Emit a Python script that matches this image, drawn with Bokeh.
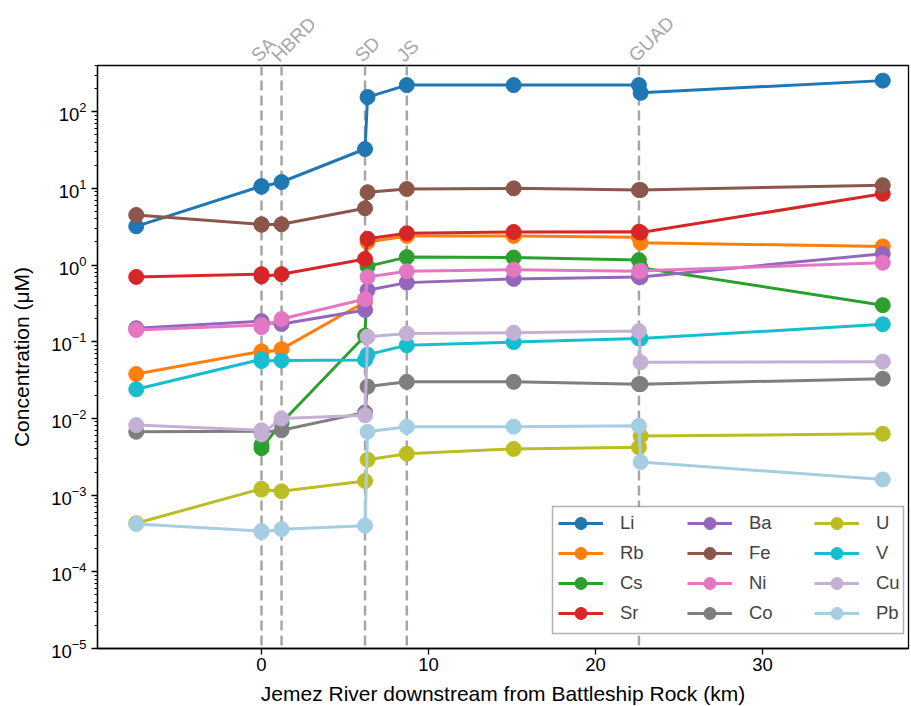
import math
from bokeh.plotting import figure
from bokeh.models import (Legend, LegendItem, Span, FixedTicker, Range1d,
                          LogTickFormatter, LinearAxis, BoxAnnotation)
from bokeh.embed import file_html
from bokeh.resources import INLINE

nan = float("nan")

# distance downstream from Battleship Rock (km)
distance_km = [-7.5, 0.0, 0.0, 1.2, 6.2, 6.35, 8.7, 15.1, 22.6, 22.7, 37.2]

Li = [3.2, 10.7, 10.5, 12.1, 32.6, 155, 222, 222, 222, 176, 254]
Rb = [0.038, 0.075, 0.072, 0.080, 0.33, 2.0, 2.4, 2.4, 2.3, 1.95, 1.75]
Cs = [nan, 0.0045, 0.0041, 0.0088, 0.12, 0.96, 1.27, 1.25, 1.16, 0.92, 0.30]
Sr = [0.70, 0.76, 0.71, 0.76, 1.2, 2.2, 2.6, 2.7, 2.72, 2.65, 8.5]
Ba = [0.15, 0.186, 0.18, 0.17, 0.26, 0.47, 0.59, 0.66, 0.70, 0.70, 1.40]
Fe = [4.5, 3.4, 3.35, 3.4, 5.5, 8.9, 9.8, 10.0, 9.5, 9.5, 11.0]
Ni = [0.142, 0.165, 0.155, 0.198, 0.36, 0.70, 0.83, 0.87, 0.83, 0.84, 1.07]
Co = [0.0067, 0.0068, 0.0066, 0.0070, 0.012, 0.026, 0.030, 0.030, 0.028, 0.028, 0.033]
U = [0.00043, 0.00121, 0.00118, 0.00112, 0.00153, 0.0029, 0.00347, 0.0040, 0.0042, 0.0059, 0.0063]
V = [0.024, 0.059, 0.056, 0.057, 0.058, 0.068, 0.090, 0.099, 0.11, 0.11, 0.169]
Cu = [0.0082, 0.0070, 0.0062, 0.0100, 0.011, 0.116, 0.128, 0.131, 0.138, 0.054, 0.055]
Pb = [0.00042, 0.00034, 0.00033, 0.00036, 0.00040, 0.0067, 0.0078, 0.0078, 0.0080, 0.0027, 0.0016]

elements = ["Li", "Rb", "Cs", "Sr", "Ba", "Fe", "Ni", "Co", "U", "V", "Cu", "Pb"]
series = [Li, Rb, Cs, Sr, Ba, Fe, Ni, Co, U, V, Cu, Pb]
colors = ["#1f77b4", "#ff7f0e", "#2ca02c", "#d62728", "#9467bd", "#8c564b",
          "#e377c2", "#7f7f7f", "#bcbd22", "#17becf", "#c5b0d5", "#a6cee3"]

site_names = ["SA", "HBRD", "SD", "JS", "GUAD"]
site_km = [0.0, 1.2, 6.2, 8.7, 22.6]

x_ticks = [0, 10, 20, 30]
y_major = [1e-5, 1e-4, 1e-3, 1e-2, 1e-1, 1e0, 1e1, 1e2]

FONT = "Liberation Sans"
FW, FH = 811, 583
X0, X1 = -9.82, 38.74
PX_PER_KM = FW / (X1 - X0)

p = figure(frame_width=FW, frame_height=FH,
           x_range=Range1d(X0, X1), y_range=Range1d(1e-5, 400),
           y_axis_type="log", output_backend="svg", toolbar_location=None,
           min_border_left=97, min_border_top=65, min_border_right=3,
           min_border_bottom=58)

p.grid.visible = False
p.outline_line_color = "black"
p.outline_line_width = 1.3
p.background_fill_color = "white"
p.border_fill_color = "white"

p.xaxis.ticker = FixedTicker(ticks=x_ticks)
minor = [m * d for d in y_major[:-1] for m in range(2, 10)] + [m * 1e2 for m in range(2, 5)]
p.yaxis.ticker = FixedTicker(ticks=y_major, minor_ticks=minor)
p.yaxis.formatter = LogTickFormatter()

for ax in (p.xaxis[0], p.yaxis[0]):
    ax.axis_line_color = "black"
    ax.axis_line_width = 1.3
    ax.major_tick_line_color = "black"
    ax.major_tick_line_width = 1.3
    ax.major_tick_in = 0
    ax.major_tick_out = 6
    ax.minor_tick_line_color = "black"
    ax.minor_tick_line_width = 1.0
    ax.minor_tick_in = 0
    ax.minor_tick_out = 3
    ax.major_label_text_font = FONT
    ax.major_label_text_font_size = "18.5px"
    ax.major_label_text_color = "black"
    ax.axis_label_text_font = FONT
    ax.axis_label_text_font_size = "21px"
    ax.axis_label_text_font_style = "normal"
    ax.axis_label_text_color = "black"

p.xaxis.axis_label = "Jemez River downstream from Battleship Rock (km)"
p.yaxis.axis_label = "Concentration (μM)"
p.xaxis.major_label_standoff = 3
p.xaxis.axis_label_standoff = 8
p.yaxis.major_label_standoff = 5
p.yaxis.axis_label_standoff = 15

# sampling-site markers
for km in site_km:
    p.add_layout(Span(location=km, dimension="height", line_color="#a6a6a6",
                      line_dash="10 5", line_width=2.5, level="underlay"))

# site names, nudged a few pixels left of their lines
label_pos = [k - 7.0 / PX_PER_KM for k in site_km]
site_axis = LinearAxis(ticker=FixedTicker(ticks=label_pos),
                       major_label_overrides={float(k): n for k, n in zip(label_pos, site_names)},
                       major_label_orientation=math.pi / 4,
                       axis_line_color=None, major_tick_line_color=None,
                       minor_tick_line_color=None, major_tick_out=0,
                       major_tick_in=0, major_label_standoff=7,
                       major_label_text_color="#a8a8a8",
                       major_label_text_font=FONT,
                       major_label_text_font_size="19px")
p.add_layout(site_axis, "above")

items = []
for name, vals, c in zip(elements, series, colors):
    rl = p.line(distance_km, vals, line_color=c, line_width=3)
    rs = p.scatter(distance_km, vals, size=15, fill_color=c, line_color=c)
    items.append(LegendItem(label=name, renderers=[rl, rs]))

# legend frame (screen px relative to the plot frame)
p.add_layout(BoxAnnotation(left=455, right=806, bottom=15, top=142,
                           left_units="screen", right_units="screen",
                           bottom_units="screen", top_units="screen",
                           fill_color="white", fill_alpha=1.0,
                           line_color="black", line_width=1.5))

col_x = [461, 590, 717]
for ci in range(3):
    leg = Legend(items=items[ci * 4:(ci + 1) * 4], location=(col_x[ci], 20),
                 orientation="vertical",
                 border_line_color=None, background_fill_alpha=0.0,
                 label_text_font=FONT, label_text_font_size="18.5px",
                 glyph_width=45, glyph_height=30, label_height=30,
                 label_standoff=17, spacing=0, padding=0, margin=0)
    p.add_layout(leg)

open("out.html", "w").write(file_html(p, INLINE))
